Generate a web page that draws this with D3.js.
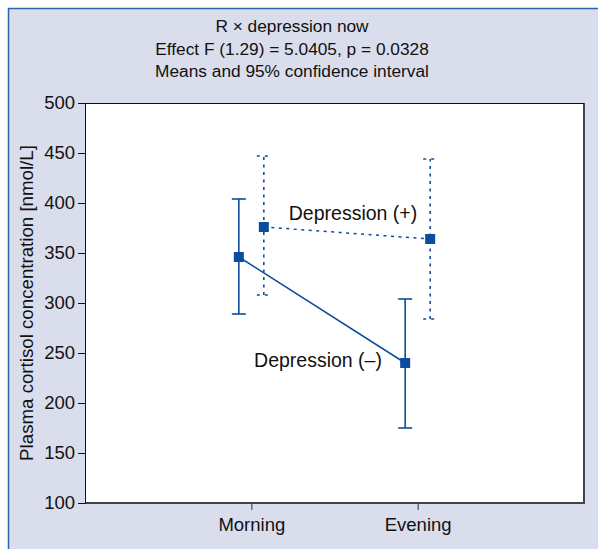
<!DOCTYPE html>
<html><head><meta charset="utf-8">
<script src="https://cdn.jsdelivr.net/npm/d3@7"></script>
<style>
html,body{margin:0;padding:0;background:#fff;}
svg text{font-family:"Liberation Sans Narrow","Liberation Sans",Arial,sans-serif;fill:#111;}
</style></head><body>
<svg id="c" width="598" height="549"></svg>
<script>
const categories = ["Morning", "Evening"];
const groups = ["Depression (–)", "Depression (+)"];
const meansNeg = [346, 240];
const lowerNeg = [289, 175];
const upperNeg = [404, 304];
const meansPos = [376, 364];
const lowerPos = [308, 284];
const upperPos = [447, 444];
const yTicks = [100, 150, 200, 250, 300, 350, 400, 450, 500];
const titleLines = ["R × depression now", "Effect F (1.29) = 5.0405, p = 0.0328", "Means and 95% confidence interval"];
const yTitle = "Plasma cortisol concentration [nmol/L]";

const svg = d3.select("#c");
const blue = "#0b4d9c";
const m = {left: 85, right: 584, top: 103, bottom: 503};

svg.append("rect").attr("x", 8).attr("y", 8).attr("width", 590).attr("height", 541).attr("fill", "#dadeec");
svg.append("line").attr("x1", 8).attr("x2", 598).attr("y1", 8.5).attr("y2", 8.5).attr("stroke", "#2a62ad").attr("stroke-width", 1.5);
svg.append("line").attr("x1", 8.5).attr("x2", 8.5).attr("y1", 8).attr("y2", 549).attr("stroke", "#2a62ad").attr("stroke-width", 1.5);

const x = d3.scalePoint().domain(["", ...categories, " "]).range([m.left, m.right]);
const y = d3.scaleLinear().domain([100, 500]).range([m.bottom, m.top]);

// plot area
svg.append("rect").attr("x", m.left).attr("y", m.top).attr("width", m.right - m.left).attr("height", m.bottom - m.top)
  .attr("fill", "#fff");
svg.append("line").attr("x1", m.right).attr("x2", m.right).attr("y1", m.top).attr("y2", m.bottom+1).attr("stroke", "#444").attr("stroke-width", 2);
svg.append("line").attr("x1", m.left).attr("x2", m.right+1).attr("y1", m.bottom).attr("y2", m.bottom).attr("stroke", "#444").attr("stroke-width", 2);
svg.append("line").attr("x1", m.left).attr("x2", m.right).attr("y1", m.top+0.5).attr("y2", m.top+0.5).attr("stroke", "#111").attr("stroke-width", 1);

// axes
const yAxis = svg.append("g").attr("transform", `translate(${m.left},0)`)
  .call(d3.axisLeft(y).tickValues(yTicks).tickSize(7).tickPadding(3).tickSizeOuter(0));
yAxis.select(".domain").attr("stroke", "#111");
yAxis.selectAll(".tick line").attr("stroke", "#111");
yAxis.selectAll("text").attr("font-size", 18.5).attr("fill", "#111");

const xAxis = svg.append("g").attr("transform", `translate(0,${m.bottom})`)
  .call(d3.axisBottom(x).tickValues(categories).tickSize(7).tickPadding(8).tickSizeOuter(0));
xAxis.select(".domain").remove();
xAxis.selectAll(".tick line").attr("stroke", "#333");
xAxis.selectAll("text").attr("font-size", 18.5).attr("fill", "#111");

// title
const cx = 292;
svg.append("g").selectAll("text").data(titleLines).join("text")
  .attr("x", cx).attr("y", (d, i) => 32 + i * 22.5).attr("text-anchor", "middle").attr("font-size", 17.3).text(d => d);

svg.append("text").attr("transform", `translate(33,${(m.top + m.bottom) / 2}) rotate(-90)`)
  .attr("text-anchor", "middle").attr("font-size", 18.7).text(yTitle);

const off = 12.5;
function series(means, lo, hi, dx, dashed) {
  const g = svg.append("g");
  const pts = categories.map((c, i) => ({x: x(c) + dx, m: means[i], lo: lo[i], hi: hi[i]}));
  const dash = dashed ? "3,4.5" : null;
  g.append("path").attr("d", d3.line().x(d => d.x).y(d => y(d.m))(pts))
    .attr("fill", "none").attr("stroke", blue).attr("stroke-width", 1.5).attr("stroke-dasharray", dash);
  pts.forEach(p => {
    g.append("line").attr("x1", p.x).attr("x2", p.x).attr("y1", y(p.lo)).attr("y2", y(p.hi))
      .attr("stroke", blue).attr("stroke-width", 1.6).attr("stroke-dasharray", dash);
    [p.lo, p.hi].forEach(v => {
      g.append("line").attr("x1", p.x - 7).attr("x2", p.x + 7).attr("y1", y(v)).attr("y2", y(v))
        .attr("stroke", blue).attr("stroke-width", 1.6).attr("stroke-dasharray", dashed ? "3,5" : null);
    });
    g.append("rect").attr("x", p.x - 5).attr("y", y(p.m) - 5).attr("width", 10).attr("height", 10).attr("fill", blue);
  });
}
series(meansNeg, lowerNeg, upperNeg, -off, false);
series(meansPos, lowerPos, upperPos, off, true);

svg.append("text").attr("x", 353).attr("y", 220).attr("text-anchor", "middle").attr("font-size", 19.5).text(groups[1]);
svg.append("text").attr("x", 318).attr("y", 367).attr("text-anchor", "middle").attr("font-size", 19.5).text(groups[0]);
</script></body></html>
